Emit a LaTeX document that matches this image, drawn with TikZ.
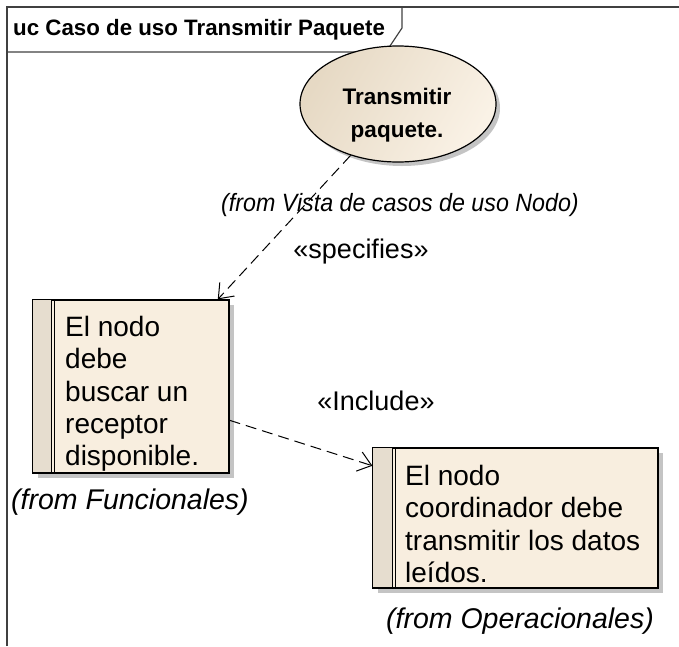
\documentclass[tikz,border=0pt]{standalone}
\usepackage{fontspec}
\setmainfont{Liberation Sans}
\usetikzlibrary{shapes.geometric,arrows.meta,calc,shadows}
\definecolor{boxfill}{HTML}{F8EEDF}
\definecolor{stripefill}{HTML}{E6DDCF}
\definecolor{elldark}{HTML}{E6D9C4}
\definecolor{elllight}{HTML}{FAF2E6}
\definecolor{framecol}{HTML}{404040}
\definecolor{shadowcol}{HTML}{C4C4C4}
\tikzset{
  reqbox/.style={draw=black, line width=1.2pt, fill=boxfill, rectangle, inner sep=0pt,
    drop shadow={shadow xshift=5pt, shadow yshift=-5pt, fill=shadowcol, opacity=1}},
  reqtext/.style={anchor=north west, inner sep=0pt, align=left,
    font=\fontsize{28}{32.3}\selectfont},
  lbl/.style={inner sep=0pt, font=\fontsize{27}{32}\selectfont},
  fromlbl/.style={inner sep=0pt, font=\fontsize{28.5}{32}\selectfont\itshape},
  dep/.style={draw=black, line width=1pt, dash pattern=on 11pt off 6pt,
    -{Straight Barb[length=13pt,width=20pt,line width=1pt]}},
}
\begin{document}
\begin{tikzpicture}[x=1pt,y=-1pt]
\useasboundingbox (0,0) rectangle (679,646);
% frame
\draw[framecol, line width=1.6pt] (7,646) -- (7,7) -- (679,7);
\draw[framecol, line width=1.2pt] (7,52) -- (386,52) -- (402,28) -- (402,7);
\node[anchor=west, inner sep=0pt, font=\fontsize{22.3}{26}\selectfont\bfseries] (title) at (13,30) {uc Caso de uso Transmitir Paquete};

% use case ellipse
\node[ellipse, draw=black, line width=1.2pt, minimum width=196pt, minimum height=116pt,
  left color=elldark, right color=elllight, shading angle=60,
  drop shadow={shadow xshift=4pt, shadow yshift=-4pt, fill=shadowcol, opacity=1}] (ell) at (398,104) {};
\node[align=center, inner sep=0pt, font=\fontsize{22.5}{33}\selectfont\bfseries] (elltext) at (397,115) {Transmitir\\paquete.};
\node[inner sep=0pt, font=\fontsize{25}{30}\selectfont\itshape] (fromvista) at (400,205) {\scalebox{0.93}[1]{(from Vista de casos de uso Nodo)}};

% requirement box 1
\node[reqbox, minimum width=196pt, minimum height=173pt] (b1) at (131,386.5) {};
\fill[stripefill] ($(b1.north west)+(0.6,0.6)$) rectangle (51,472.4);
\draw[line width=1pt] (51,300) -- (51,473);
\draw[line width=1pt] (54.5,300) -- (54.5,473);
\draw[line width=1.2pt] (b1.north west) rectangle (b1.south east);
\node[reqtext] (b1text) at (65,316) {El nodo\\debe\\buscar un\\receptor\\disponible.};
\node[fromlbl] (fromfunc) at (130,502) {(from Funcionales)};

% requirement box 2
\node[reqbox, minimum width=285pt, minimum height=140pt] (b2) at (515.5,518) {};
\fill[stripefill] ($(b2.north west)+(0.6,0.6)$) rectangle (392,587.4);
\draw[line width=1pt] (392,448) -- (392,588);
\draw[line width=1pt] (395.5,448) -- (395.5,588);
\draw[line width=1.2pt] (b2.north west) rectangle (b2.south east);
\node[reqtext] (b2text) at (405,465) {El nodo\\coordinador debe\\transmitir los datos\\leídos.};
\node[fromlbl] (fromop) at (520,621) {(from Operacionales)};

% connectors
\coordinate (spectip) at ($(b1.north west)!0.94!(b1.north east)$);
\draw[dep] (ell) -- (spectip);
\node[lbl] (speclbl) at (361,252) {«specifies»};

\coordinate (incstart) at ($(b1.south east)!0.306!(b1.north east)$);
\coordinate (inctip) at ($(b2.north west)!0.13!(b2.south west)$);
\draw[dep] (incstart) -- (inctip);
\node[lbl] (inclbl) at (376,401) {«Include»};
\end{tikzpicture}
\end{document}
